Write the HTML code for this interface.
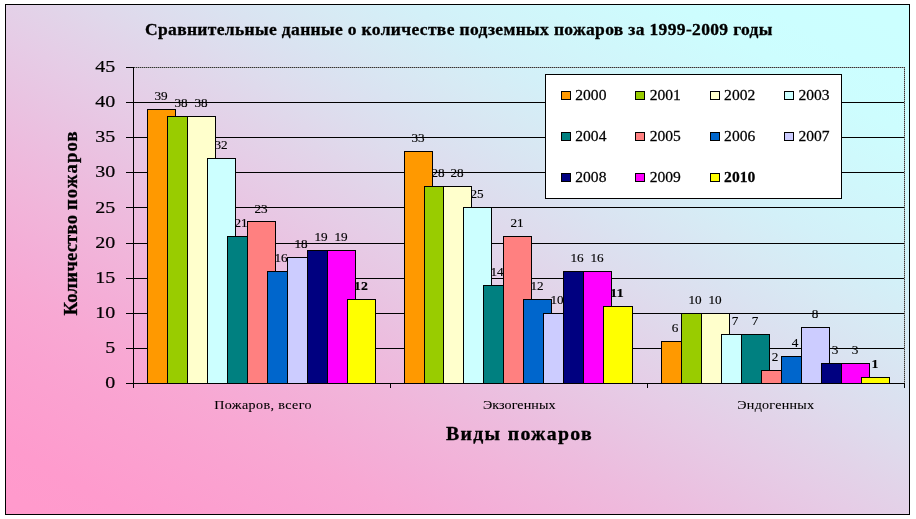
<!DOCTYPE html>
<html lang="ru"><head><meta charset="utf-8"><title>Сравнительные данные о количестве подземных пожаров</title>
<style>html,body{margin:0;padding:0;background:#fff}body{width:916px;height:519px;overflow:hidden}svg{display:block}text{font-family:"Liberation Serif","DejaVu Serif",serif;fill:#000}</style></head><body>
<svg width="916" height="519" viewBox="0 0 916 519">
<defs><linearGradient id="bg" gradientUnits="userSpaceOnUse" x1="226.1" y1="669.6" x2="662.7" y2="-104.2"><stop offset="0.00" stop-color="#FF99CC"/><stop offset="0.05" stop-color="#FF9ACC"/><stop offset="0.10" stop-color="#FE9BCD"/><stop offset="0.15" stop-color="#FC9FCF"/><stop offset="0.20" stop-color="#FAA3D1"/><stop offset="0.25" stop-color="#F8A8D3"/><stop offset="0.30" stop-color="#F4AED7"/><stop offset="0.35" stop-color="#F1B5DA"/><stop offset="0.40" stop-color="#EDBCDE"/><stop offset="0.45" stop-color="#E9C4E2"/><stop offset="0.50" stop-color="#E6CCE6"/><stop offset="0.55" stop-color="#E2D4E9"/><stop offset="0.60" stop-color="#DEDCED"/><stop offset="0.65" stop-color="#DAE3F1"/><stop offset="0.70" stop-color="#D7EAF4"/><stop offset="0.75" stop-color="#D3F0F8"/><stop offset="0.80" stop-color="#D1F5FA"/><stop offset="0.85" stop-color="#CFF9FC"/><stop offset="0.90" stop-color="#CDFDFE"/><stop offset="0.95" stop-color="#CCFEFF"/><stop offset="1.00" stop-color="#CCFFFF"/></linearGradient></defs>
<rect x="0" y="0" width="916" height="519" fill="#fff"/>
<rect x="5.5" y="4.5" width="904" height="510" fill="url(#bg)" stroke="#000" stroke-width="1"/>
<g stroke="#000" stroke-width="1" shape-rendering="crispEdges">
<line x1="126" y1="348.5" x2="904" y2="348.5"/>
<line x1="126" y1="313.5" x2="904" y2="313.5"/>
<line x1="126" y1="278.5" x2="904" y2="278.5"/>
<line x1="126" y1="243.5" x2="904" y2="243.5"/>
<line x1="126" y1="207.5" x2="904" y2="207.5"/>
<line x1="126" y1="172.5" x2="904" y2="172.5"/>
<line x1="126" y1="137.5" x2="904" y2="137.5"/>
<line x1="126" y1="102.5" x2="904" y2="102.5"/>
</g>
<path d="M126 67.5H134" stroke="#000" shape-rendering="crispEdges"/>
<path d="M134 67.5H904.5V383" fill="none" stroke="#999" stroke-width="1" shape-rendering="crispEdges"/>
<path d="M134 67.5H904.5V383" fill="none" stroke="#333" stroke-width="1" stroke-dasharray="1 1" shape-rendering="crispEdges"/>
<g stroke="#000" stroke-width="1" shape-rendering="crispEdges">
<rect x="147.5" y="109.5" width="28" height="274.0" fill="#FF9900"/>
<rect x="167.5" y="116.5" width="28" height="267.0" fill="#99CC00"/>
<rect x="187.5" y="116.5" width="28" height="267.0" fill="#FFFFCC"/>
<rect x="207.5" y="158.5" width="28" height="225.0" fill="#CCFFFF"/>
<rect x="227.5" y="236.5" width="28" height="147.0" fill="#008080"/>
<rect x="247.5" y="221.5" width="28" height="162.0" fill="#FF8080"/>
<rect x="267.5" y="271.5" width="28" height="112.0" fill="#0066CC"/>
<rect x="287.5" y="257.5" width="28" height="126.0" fill="#CCCCFF"/>
<rect x="307.5" y="250.5" width="28" height="133.0" fill="#000080"/>
<rect x="327.5" y="250.5" width="28" height="133.0" fill="#FF00FF"/>
<rect x="347.5" y="299.5" width="28" height="84.0" fill="#FFFF00"/>
<rect x="404.5" y="151.5" width="28" height="232.0" fill="#FF9900"/>
<rect x="424.5" y="186.5" width="28" height="197.0" fill="#99CC00"/>
<rect x="443.5" y="186.5" width="28" height="197.0" fill="#FFFFCC"/>
<rect x="463.5" y="207.5" width="28" height="176.0" fill="#CCFFFF"/>
<rect x="483.5" y="285.5" width="28" height="98.0" fill="#008080"/>
<rect x="503.5" y="236.5" width="28" height="147.0" fill="#FF8080"/>
<rect x="523.5" y="299.5" width="28" height="84.0" fill="#0066CC"/>
<rect x="543.5" y="313.5" width="28" height="70.0" fill="#CCCCFF"/>
<rect x="563.5" y="271.5" width="28" height="112.0" fill="#000080"/>
<rect x="583.5" y="271.5" width="28" height="112.0" fill="#FF00FF"/>
<rect x="603.5" y="306.5" width="29" height="77.0" fill="#FFFF00"/>
<rect x="661.5" y="341.5" width="28" height="42.0" fill="#FF9900"/>
<rect x="681.5" y="313.5" width="28" height="70.0" fill="#99CC00"/>
<rect x="701.5" y="313.5" width="28" height="70.0" fill="#FFFFCC"/>
<rect x="721.5" y="334.5" width="28" height="49.0" fill="#CCFFFF"/>
<rect x="741.5" y="334.5" width="28" height="49.0" fill="#008080"/>
<rect x="761.5" y="370.5" width="28" height="13.0" fill="#FF8080"/>
<rect x="781.5" y="356.5" width="28" height="27.0" fill="#0066CC"/>
<rect x="801.5" y="327.5" width="28" height="56.0" fill="#CCCCFF"/>
<rect x="821.5" y="363.5" width="28" height="20.0" fill="#000080"/>
<rect x="841.5" y="363.5" width="28" height="20.0" fill="#FF00FF"/>
<rect x="861.5" y="377.5" width="28" height="6.0" fill="#FFFF00"/>
</g>
<g stroke="#000" stroke-width="1" shape-rendering="crispEdges">
<line x1="133.5" y1="67" x2="133.5" y2="388"/>
<line x1="126" y1="383.5" x2="904" y2="383.5"/>
<line x1="390.5" y1="383" x2="390.5" y2="388"/>
<line x1="647.5" y1="383" x2="647.5" y2="388"/>
<line x1="904.5" y1="383" x2="904.5" y2="388"/>
</g>
<g font-size="17.4" text-anchor="end" stroke="#000" stroke-width="0.2">
<text transform="translate(115.2 388.1) scale(1.15 1)">0</text>
<text transform="translate(115.2 353.0) scale(1.15 1)">5</text>
<text transform="translate(115.2 317.9) scale(1.15 1)">10</text>
<text transform="translate(115.2 282.8) scale(1.15 1)">15</text>
<text transform="translate(115.2 247.7) scale(1.15 1)">20</text>
<text transform="translate(115.2 212.5) scale(1.15 1)">25</text>
<text transform="translate(115.2 177.4) scale(1.15 1)">30</text>
<text transform="translate(115.2 142.3) scale(1.15 1)">35</text>
<text transform="translate(115.2 107.2) scale(1.15 1)">40</text>
<text transform="translate(115.2 72.1) scale(1.15 1)">45</text>
</g>
<g font-size="13.5" text-anchor="middle" stroke="#000" stroke-width="0.15">
<text x="161.0" y="100.1" textLength="13.2" lengthAdjust="spacingAndGlyphs">39</text>
<text x="181.0" y="107.2" textLength="13.2" lengthAdjust="spacingAndGlyphs">38</text>
<text x="201.0" y="107.2" textLength="13.2" lengthAdjust="spacingAndGlyphs">38</text>
<text x="221.0" y="149.3" textLength="13.2" lengthAdjust="spacingAndGlyphs">32</text>
<text x="241.0" y="226.5" textLength="13.2" lengthAdjust="spacingAndGlyphs">21</text>
<text x="261.0" y="212.5" textLength="13.2" lengthAdjust="spacingAndGlyphs">23</text>
<text x="281.0" y="261.6" textLength="13.2" lengthAdjust="spacingAndGlyphs">16</text>
<text x="301.0" y="247.6" textLength="13.2" lengthAdjust="spacingAndGlyphs">18</text>
<text x="321.0" y="240.6" textLength="13.2" lengthAdjust="spacingAndGlyphs">19</text>
<text x="341.0" y="240.6" textLength="13.2" lengthAdjust="spacingAndGlyphs">19</text>
<text x="361.0" y="289.7" font-weight="bold" textLength="13.8" lengthAdjust="spacingAndGlyphs">12</text>
<text x="418.0" y="142.3" textLength="13.2" lengthAdjust="spacingAndGlyphs">33</text>
<text x="438.0" y="177.4" textLength="13.2" lengthAdjust="spacingAndGlyphs">28</text>
<text x="457.0" y="177.4" textLength="13.2" lengthAdjust="spacingAndGlyphs">28</text>
<text x="477.0" y="198.4" textLength="13.2" lengthAdjust="spacingAndGlyphs">25</text>
<text x="497.0" y="275.7" textLength="13.2" lengthAdjust="spacingAndGlyphs">14</text>
<text x="517.0" y="226.5" textLength="13.2" lengthAdjust="spacingAndGlyphs">21</text>
<text x="537.0" y="289.7" textLength="13.2" lengthAdjust="spacingAndGlyphs">12</text>
<text x="557.0" y="303.8" textLength="13.2" lengthAdjust="spacingAndGlyphs">10</text>
<text x="577.0" y="261.6" textLength="13.2" lengthAdjust="spacingAndGlyphs">16</text>
<text x="597.0" y="261.6" textLength="13.2" lengthAdjust="spacingAndGlyphs">16</text>
<text x="617.0" y="296.8" font-weight="bold" textLength="13.8" lengthAdjust="spacingAndGlyphs">11</text>
<text x="675.0" y="331.9" textLength="6.6" lengthAdjust="spacingAndGlyphs">6</text>
<text x="695.0" y="303.8" textLength="13.2" lengthAdjust="spacingAndGlyphs">10</text>
<text x="715.0" y="303.8" textLength="13.2" lengthAdjust="spacingAndGlyphs">10</text>
<text x="735.0" y="324.8" textLength="6.6" lengthAdjust="spacingAndGlyphs">7</text>
<text x="755.0" y="324.8" textLength="6.6" lengthAdjust="spacingAndGlyphs">7</text>
<text x="775.0" y="361.0" textLength="6.6" lengthAdjust="spacingAndGlyphs">2</text>
<text x="795.0" y="346.9" textLength="6.6" lengthAdjust="spacingAndGlyphs">4</text>
<text x="815.0" y="317.8" textLength="6.6" lengthAdjust="spacingAndGlyphs">8</text>
<text x="835.0" y="353.9" textLength="6.6" lengthAdjust="spacingAndGlyphs">3</text>
<text x="855.0" y="353.9" textLength="6.6" lengthAdjust="spacingAndGlyphs">3</text>
<text x="875.0" y="368.0" font-weight="bold" textLength="6.9" lengthAdjust="spacingAndGlyphs">1</text>
</g>
<g font-size="13.3" stroke="#000" stroke-width="0.1">
<text transform="translate(214.2 409) scale(1.06 1)" textLength="91.8" lengthAdjust="spacing">Пожаров, всего</text>
<text transform="translate(482.9 409) scale(1.06 1)" textLength="68.5" lengthAdjust="spacing">Экзогенных</text>
<text transform="translate(737.3 409) scale(1.06 1)" textLength="72.4" lengthAdjust="spacing">Эндогенных</text>
</g>
<text transform="translate(145 35) scale(1.08 1)" font-size="16.2" font-weight="bold" stroke="#000" stroke-width="0.3" textLength="581" lengthAdjust="spacing">Сравнительные данные о количестве подземных пожаров за 1999-2009 годы</text>
<text transform="translate(446 440) scale(1.1 1)" font-size="18" font-weight="bold" stroke="#000" stroke-width="0.3" textLength="132.5" lengthAdjust="spacing">Виды пожаров</text>
<text transform="translate(76.5 315.5) rotate(-90)" font-size="18.7" font-weight="bold" stroke="#000" stroke-width="0.3"><tspan x="0" textLength="100.5" lengthAdjust="spacing">Количество</tspan> <tspan x="105.5" textLength="78.5" lengthAdjust="spacing">пожаров</tspan></text>
<rect x="545.5" y="74.5" width="296" height="124" fill="#fff" stroke="#000" stroke-width="1" shape-rendering="crispEdges"/>
<g font-size="14.7" stroke-width="0.25">
<rect x="561.5" y="91.5" width="9" height="8" fill="#FF9900" stroke="#000" stroke-width="1" shape-rendering="crispEdges"/>
<text transform="translate(575.3 99.8) scale(1.06 1)" stroke="#000">2000</text>
<rect x="635.5" y="91.5" width="9" height="8" fill="#99CC00" stroke="#000" stroke-width="1" shape-rendering="crispEdges"/>
<text transform="translate(649.7 99.8) scale(1.06 1)" stroke="#000">2001</text>
<rect x="710.5" y="91.5" width="9" height="8" fill="#FFFFCC" stroke="#000" stroke-width="1" shape-rendering="crispEdges"/>
<text transform="translate(724.1 99.8) scale(1.06 1)" stroke="#000">2002</text>
<rect x="784.5" y="91.5" width="9" height="8" fill="#CCFFFF" stroke="#000" stroke-width="1" shape-rendering="crispEdges"/>
<text transform="translate(798.5 99.8) scale(1.06 1)" stroke="#000">2003</text>
<rect x="561.5" y="132.5" width="9" height="8" fill="#008080" stroke="#000" stroke-width="1" shape-rendering="crispEdges"/>
<text transform="translate(575.3 140.8) scale(1.06 1)" stroke="#000">2004</text>
<rect x="635.5" y="132.5" width="9" height="8" fill="#FF8080" stroke="#000" stroke-width="1" shape-rendering="crispEdges"/>
<text transform="translate(649.7 140.8) scale(1.06 1)" stroke="#000">2005</text>
<rect x="710.5" y="132.5" width="9" height="8" fill="#0066CC" stroke="#000" stroke-width="1" shape-rendering="crispEdges"/>
<text transform="translate(724.1 140.8) scale(1.06 1)" stroke="#000">2006</text>
<rect x="784.5" y="132.5" width="9" height="8" fill="#CCCCFF" stroke="#000" stroke-width="1" shape-rendering="crispEdges"/>
<text transform="translate(798.5 140.8) scale(1.06 1)" stroke="#000">2007</text>
<rect x="561.5" y="173.5" width="9" height="8" fill="#000080" stroke="#000" stroke-width="1" shape-rendering="crispEdges"/>
<text transform="translate(575.3 181.8) scale(1.06 1)" stroke="#000">2008</text>
<rect x="635.5" y="173.5" width="9" height="8" fill="#FF00FF" stroke="#000" stroke-width="1" shape-rendering="crispEdges"/>
<text transform="translate(649.7 181.8) scale(1.06 1)" stroke="#000">2009</text>
<rect x="710.5" y="173.5" width="9" height="8" fill="#FFFF00" stroke="#000" stroke-width="1" shape-rendering="crispEdges"/>
<text transform="translate(724.1 181.8) scale(1.06 1)" font-weight="bold" stroke="#000">2010</text>
</g>
</svg></body></html>
